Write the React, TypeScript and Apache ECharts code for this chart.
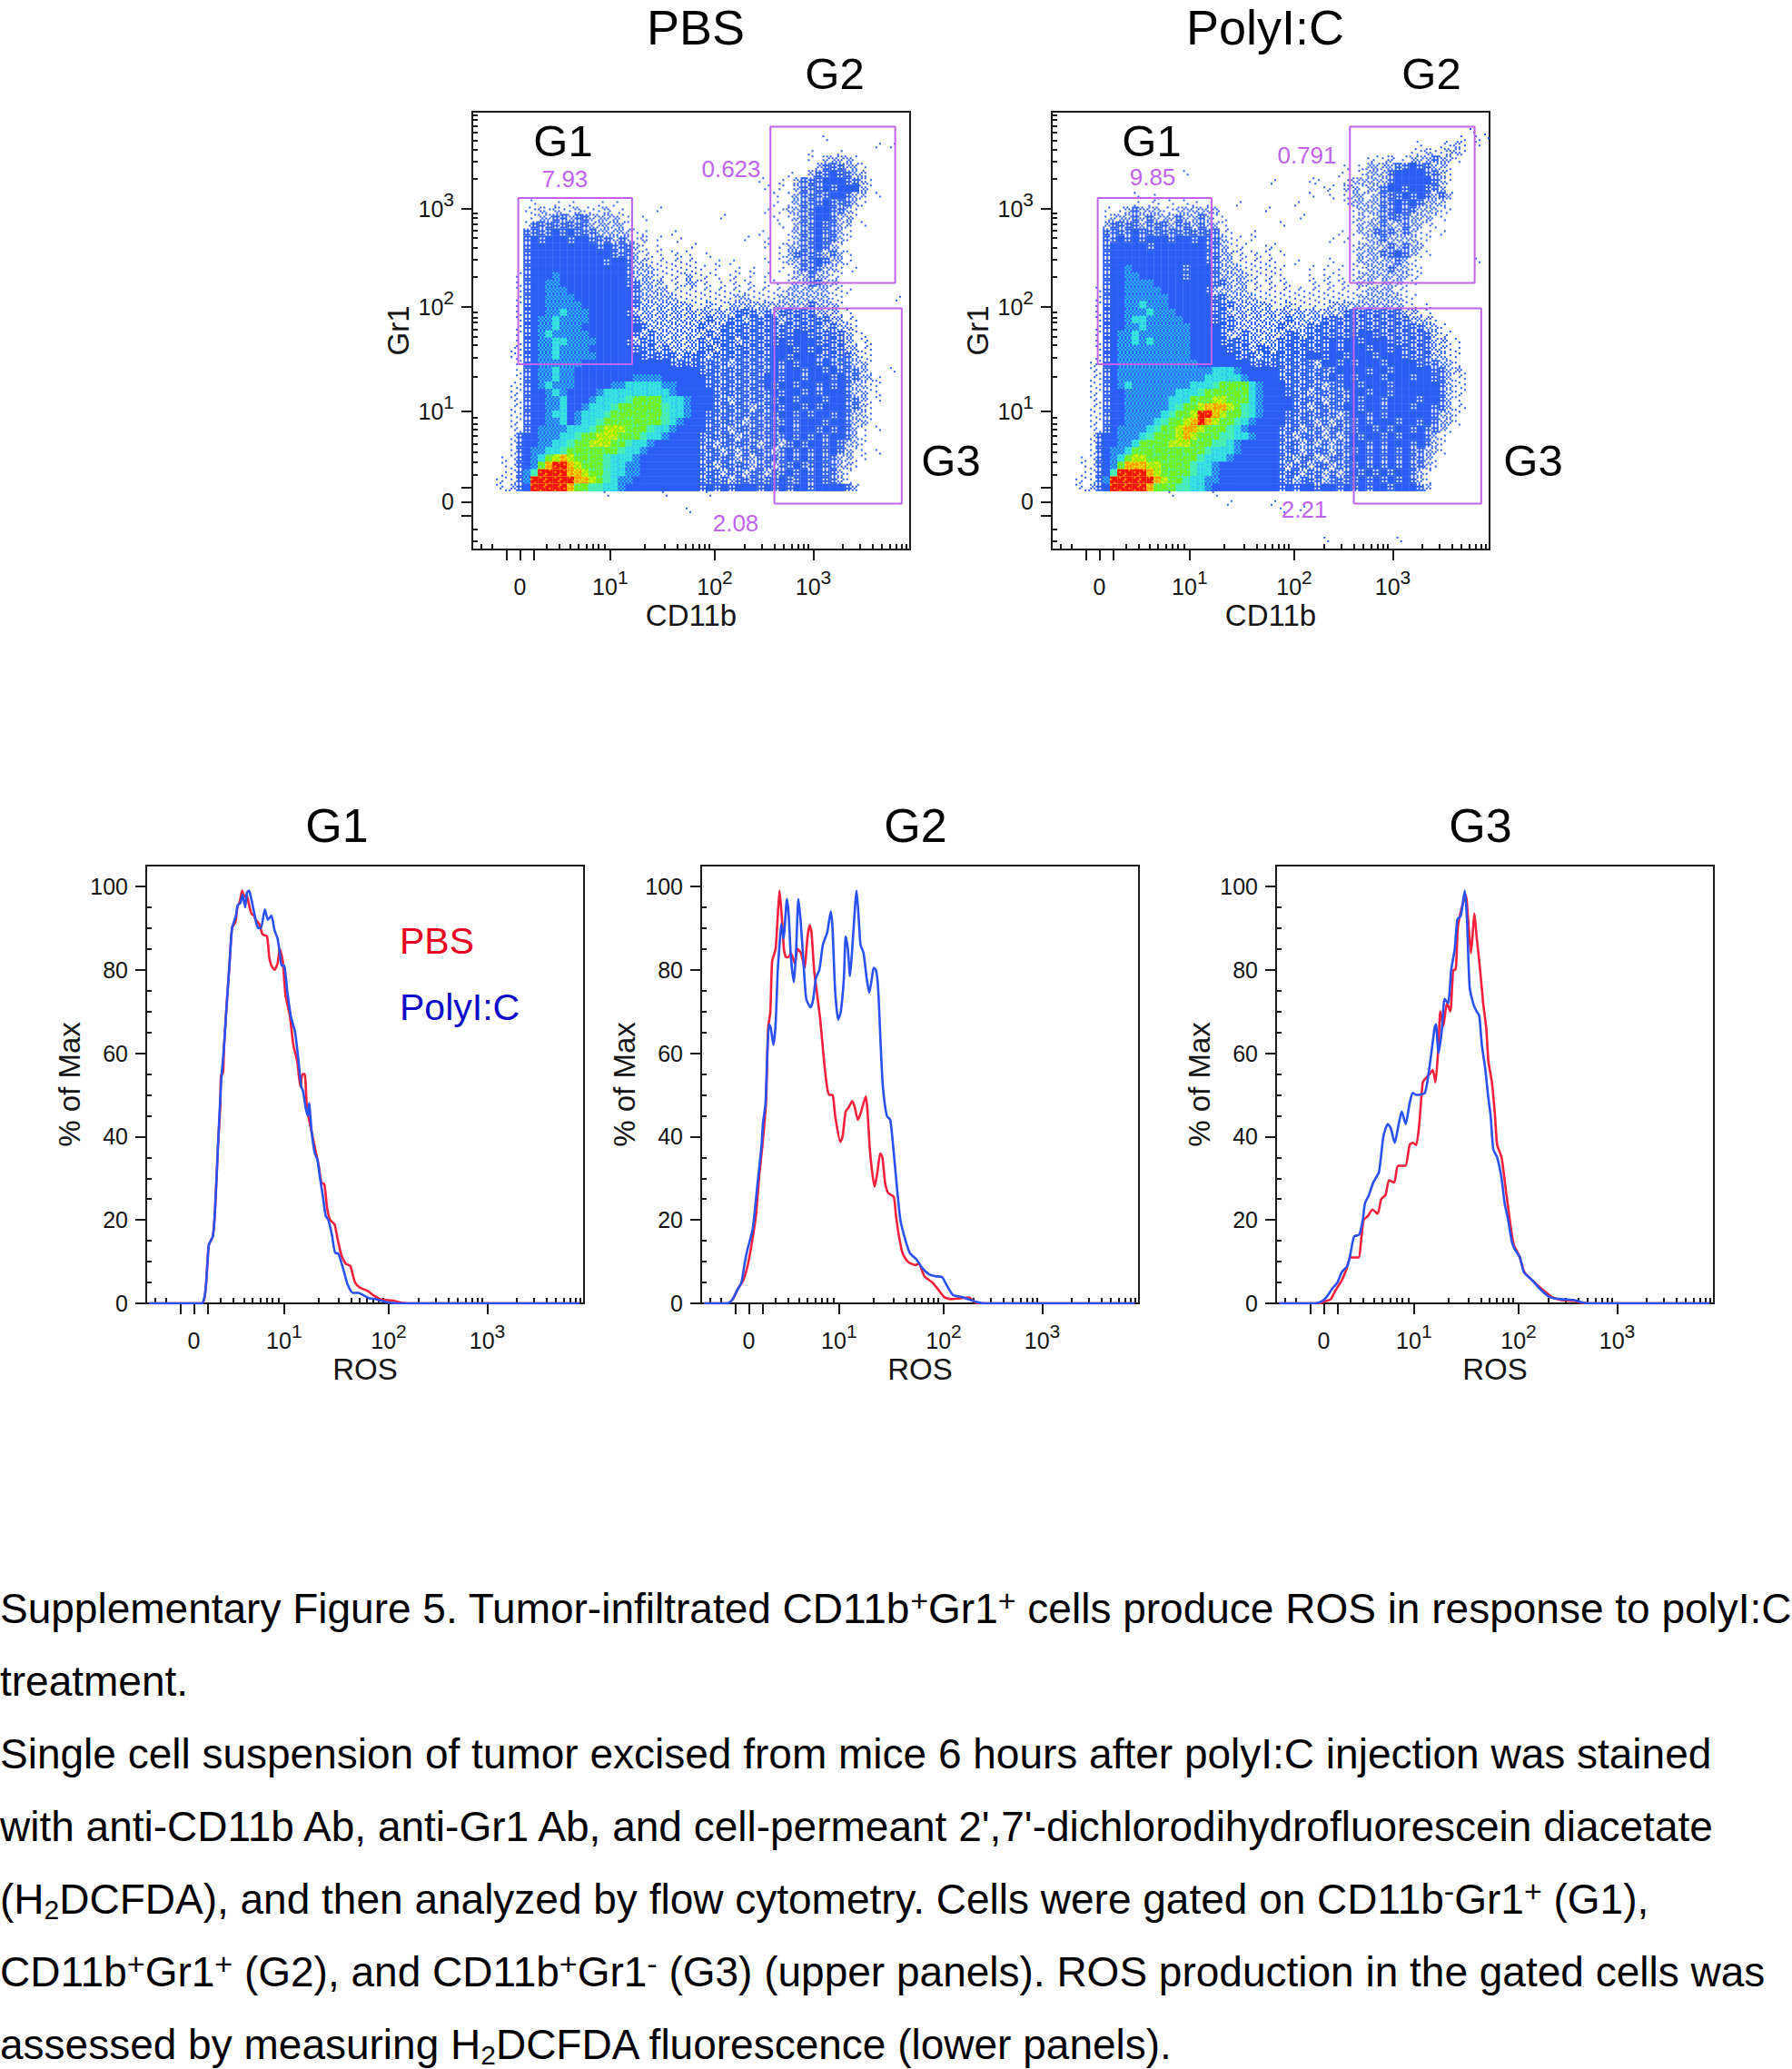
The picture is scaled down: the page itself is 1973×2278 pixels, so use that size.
import React, { useEffect, useRef } from 'react';
import * as echarts from 'echarts';

// all x/y positions on the biexponential scales are display channels, 0 - 1000
const majorTicks = [78, 109, 141, 315, 554, 779];
const minorTicks = [20, 46, 170, 199, 223, 242, 260, 275, 287, 302, 394, 439, 468, 486, 503, 519, 530, 542,
  622, 662, 690, 712, 729, 744, 757, 768, 846, 886, 914, 935, 953, 968, 981, 992];
const labelChannels = [109, 315, 554, 779];
const labelTexts = ['0', '10{sup|1}', '10{sup|2}', '10{sup|3}'];
const pctMajor = [0, 20, 40, 60, 80, 100];
const pctMinor = [5, 10, 15, 25, 30, 35, 45, 50, 55, 65, 70, 75, 85, 90, 95];

// gates, [x0, x1, y0, y1]
const gates = [
  [105, 365, 423, 803],
  [681, 966, 609, 966],
  [690, 981, 105, 551],
];

const panelNames = ['PBS', 'PolyI:C'];
const gatePercents = [['7.93', '0.623', '2.08'], ['9.85', '0.791', '2.21']];

// density level per cell of a 60 x 60 raster, top row first. '.' is no events
const densityLevels = 'abcdefghijk';
const densityColors = ['#2b5ef6', '#2b5ef6', '#2b5ef6', '#2b5ef6', '#30c4f2', '#38e6dc', '#4ff0a8', '#74f018', '#dcf000', '#ff9a00', '#f21408'];
// how many of the 16 sub cells of a raster cell carry a dot
const densityDots = [2, 6, 12, 16, 8, 12, 12, 13, 10, 11, 14];

const pbsDensity = [
  '.......... .......... .......... .......... .......... ..........',
  '.......... .......... .......... .......... .......... ..........',
  '.......... .......... .......... .......... .......... ..........',
  '.......... .......... .......... .......... ........a. ..........',
  '.......... .......... .......... .......... .......... .....a.a..',
  '.......... .......... .......... .......... ......a... a.........',
  '.......... .......... .......... .......... ......a.bb bba.......',
  '.......... .......... .......... .......... .......bcc cbba......',
  '.......... .......... .......... .......... ...a..bccd ccbb......',
  '.......... .......... .......... .........a ..a.bcccdd dccba.....',
  '.......... .......... .......... .......... a.a.bcccdc dddba.....',
  '.......... .......... .......... .......... .a.abccccd dcbb.a....',
  '........a. .a.a...a.a .......... .......... .a.abcccdc ccba......',
  '.......aab abaabaaab. a....a.... .......... a.abbccddc cba.......',
  '........ab bccbccbbbb aa.a...... ....a..... .a.abccddc bba.......',
  '.......acc ccccccbbbb ba........ .......... ..a.bccdcc bb.a......',
  '.......ccc cdcdcccbbb bbaa...a.. .........a ...abccdcc ba........',
  '.......cdc dddcddcccb cbab.a..a. .......a.. a..abccdcc ba........',
  '.......cdd dddddddcdc ccba.a.... a......... a.abbccdcb a.........',
  '.......cdd dddddddddc ccbaaa.aaa ..a....... ..abccccbc ba........',
  '.......cdd ddddddddcd dcbbaaaaaa a..a.a.... a.abbccdcb ba........',
  '.......cdd dddddddddd dcbbbaaaaa aa.a..a.a. ..a.bcccbb a.a.......',
  '......acdd dedddddddd dcbbbaaaab aaaa.aa.a. a..abbcbba a.........',
  '......acdd eedddddddd dccbbbaaab baa.aaaaa. aa.abbccbb a.........',
  '......acdd eeeddddddd ddcbbbbaaa aaaaaaaaaa aaabbbbbba aa........',
  '......acdd eeeedddddd ddcbbbbbaa aaaaaabbaa aabbbbbbba a.......a.',
  '......acdd eeeeeddddd ddcbbbbbbb aabaabbbbb bbbbbbcbbb a.........',
  '......acdd eefeeedddd dcbbbbbbbb bbbbbbcccb cbcccccbbb aa........',
  '......acde efeeeedddd ddcbbbbbbb bbcbbccbcc ccbccccccb baa.......',
  '......acde efeeeddddd dddcbbbbbb bcbbcccccc ccccccccbc bba.......',
  '......acde feeeeedddd ddcbcbbbbb bbcbcccccc ccccddcccc cbaa......',
  '......acde effeeeeddd dcbccbbbbb bcbcccbccc ccdcdddccc cbaaa.....',
  '.....aacde efeeeedddd ddcccbcbbb bccbcccccc cdddcdcdcc cbbaa.....',
  '.....aacde efeeeeeddd dddcccccbc ccbccccccc cddcdddccc ccbaa.....',
  '......acde eeeeeddddd dddddddccc cccccbcccc cdcdcddcdc ccbba.....',
  '......acde efeedddddd dddddddddd dccccccccc cdcddcddcd cccba..a..',
  '......acde efeedddddd ddeeeedddd ddcccccccc ddcddcdddc dccbba....',
  '.....aacde feeeddddde efffffeedd ddcccccccc dcddcddcdc dcbbaa....',
  '.....aacdd efeddddeff fffffffedd dddccccccc cdcddcdcdd dcbbaa....',
  '.....aacdd eefdddefff fghhhhfffe dddccbcccc ccddcdddcd dccbaa....',
  '.....aacdd eefddefffg hhhhhhgffe dddcccccbc cdcddcdcdd dccba.....',
  '.....aacdd effdefffgh hhhhhhgffe ddcccccccc ccddcdcddc dcbba.....',
  '.....aacdd eefdeffghh hhhhhhgfed ddcccccbcc cccdcdddcd dcbba.....',
  '.....aacde eeefffghii ihhhgffedd ddcccbcccc ccddcddcdc dcba.a....',
  '.....acdde eeffghhiii hhhgffeddd dcccccbccc cccdcdcdcd dcba......',
  '.....acdde effghhiiih hgffeddddd dccbcccccb ccbcdcddcd cbba......',
  '.....acdee ffghhhhhhh gffedddddd dcccbcbccc cbcdcdcdcd cbaa.a....',
  '....aacdef hijihhhhgf ffeddddddd dcccccbcbc cccdcdcdcc bbaa......',
  '....aacdeh jkkjihhhgf feeddddddd dccbccccbc cbccdccdcc bba.......',
  '....aacegk kkkjjihhgf feeddddddd dcccbccbcc bccdcdcdcc ba........',
  '...aaacekk kkkkjjihgf eedddddddd dccccbcccc ccdccdcdcc ba........',
  '...aabcdkk kkkjhhggff eddddddddd dcdcdcdddc dcdcddcddd dcb.......',
  '.......... ........a. ......a... ..a....... .......... ..........',
  '.......... .......... .......... .......... .......... ..........',
  '.......... .......... .........a .......... .......... ..........',
];

const polyDensity = [
  '.......... .......... .......... .......... .......... ..........',
  '.......... .......... .......... .......... .......... ..........',
  '.......... .......... .......... .......... .......... .......a..',
  '.......... .......... .......... .......... .......... ......a.aa',
  '.......... .......... .......... .......... .......... a..aaba.a.',
  '.......... .......... .......... .......... .........a abaabba...',
  '.......... .......... .......... .......... ...aaab.ab bbcbba....',
  '.......... .......... .......... .......... a.abbbbccd ccbba.....',
  '.......... ........a. .......... .........a ..abbbcddd dccba.....',
  '.......... .......... .......... a....aa... abbbbbcddd ddcba.....',
  '.......... .......... .......... .......aa. bbabbcddcd dccb......',
  '.......... .a..a..... .......... .....a..a. abbabcccdc dcbcb.....',
  '.......... .a.aa.a.aa .a...a.... ...a...... abbbbccdcd cbbb......',
  '.......a.a bcbbbaabbb bbb......a .......... .abbbccdcc bbbaa.....',
  '.......abb bcbcbbbcbb cbaa...... ....a..... .ababccccb bbaa......',
  '.......bcc ccbcccbccb cbba...... .a........ .abbbcbbcb baa.......',
  '.......ccc cdcccccccc cccaa..a.. .........a .abbcccbcb aa.a......',
  '.......ccd cdcdddcddc dccbaa.a.. ........a. a.abbcbbbb aa........',
  '.......cdd dddcdddddd dccbaaa..a a......... .abbbbcbcb b.........',
  '.......cdd dddddddddd dccbbaaaaa .a........ .abbbccdcb aa........',
  '.......cdd dddddddddd dccbbaaaaa a..a....a. .abbbbbcba ........a.',
  '.......cdd edddddddcd ddcbbbaaaa aa...a.a.a .aabbbcbba a.........',
  '.......cdd eeddddddcd ddcbbbbaaa aa...a.aaa .abbbbbbba a.........',
  '.......cdd eeeedddddd ddccbbbaaa aaa..aaaaa aabbabbbaa ..........',
  '......acdd eeeeeddddd dcbbbbbaaa aaaaaaaaaa aaabbbbaa. ..........',
  '......acdd eeeeeedddd ddccbbbbaa aaaaaaaaaa aabbbbbbaa ..........',
  '......acdd eefeeedddd ddcccbbbbb aabaaaaabb bbbbbbbbaa .a........',
  '......acdd eeefeeeddd ddccbbbbbb bbbbbbbbbb ccccccccbb aa........',
  '......acdd effeeeeedd ddcccbbbbb bbcbbbbccc cccccccccb bba.......',
  '......acdd eefeeeeeed dddccbbbbb bcbbbccccc cccccccccc cbba......',
  '......acde efeeeeeeed dddcbbcbbb bbccbccccc ccddcccccc ccbaa.....',
  '......acde efefeeeeed dddccccbbb bcccccccdc ddcdddcccc ccbbaa....',
  '......acde eeeeeeeeed ddddcccbcc bcccccccdc dddcddcdcc ccbbaa....',
  '......acde eeeeeeeeed dddddcccbc cccccddcdd cdddcdddcc ccbbaa....',
  '.....aacde eeeeeeeeee dddddddccc ccccccbddc dcdddcdddd cccbba....',
  '.....aacde eeeeeeeeee eefffedddd dccccccccd dddcddcddd ddccbba...',
  '.....aacde eeeeeeeeee efffffeddd dcccccccdc dcdddcdddc ddccbaa...',
  '.....aacde feeeeeeeef ffghhhhfed ddcccccbcc ddcdddcddd dddcbaa...',
  '.....aacdd eeeeeeefff ghhhhhhfed ddcccbcccc cddcddcddd dddcbaa...',
  '.....aacdd eeeeeefffh hhiihhhfed dddccccbcc cdcddcdddd cddcba....',
  '.....aacdd eeeeeefghh ijjjihgfed dddccbcccc ddcddcdddc ddccbaa...',
  '.....aacdd eeeeefghhi kkjihhgfed ddcccccccb cddcdcdddd ddcbba....',
  '.....aacdd eeeefghhij kjihhgfedd ddccccbcbc ccdcdddcdd cdcbba....',
  '.....aacde eeefghhijj ihhhgfeddd dcccbccbcc ccddcdcddc dccba.....',
  '.....acdde eefghhhiji hhhggffedd dccbcccbcb cdcddcdcdd dcba......',
  '.....acdde efhhhhiiih hhggfedddd dcccbcbcbc cddcdcdddc dcba......',
  '.....acdee fhhhhhhhhh hgfffedddd dcccbcccbc ccdcdcdcdc cbba......',
  '....aacdef hiihhhhhhh gfffeddddd dccbccbbcc cddcdcdcdc cba.......',
  '....aacdeh jjjiihhhhg ffeddddddd dcbccbccbc ccdcdcdcdc cba.......',
  '....aacdgk kkkjihhhhg ffeddddddd dcccbccbcb cdcdcdcddc ba........',
  '...aaacekk kkkkjihhgf feeddddddd dccbcccbcc ccdcdcdcdc ba........',
  '...aabcdkk kkkjhhhggf fedddddddd dcdcddcddc dcdcddcddd cb........',
  '.......... ......a... ..a....... .......... .......... ..........',
  '.......... .......... ....a..... a......... .......... ..........',
  '.......... .......... .......... .a..a..... .......... ..........',
  '.......... .......... .......... .......... .......... ..........',
  '.......... .......... .......... .......... .......... ..........',
  '.......... .......... .......... .......... .......... ..........',
  '.......... .......... .......... .......a.. .......a.. ..........',
];

// histograms, [channel, % of max]
const g1Pbs = [[7, 0], [127, 0], [133, 1.2], [137, 5], [143, 14], [152, 16], [157, 22], [164, 38], [169, 47], [171, 55], [175, 55], [178, 62], [184, 72], [190, 81], [196, 90], [204, 91.5], [208, 95], [214, 96.5], [219, 99], [224, 97.5], [229, 98], [234, 96], [240, 93.5], [246, 93], [250, 92], [258, 91], [266, 88.5], [276, 88], [281, 83], [286, 81], [293, 80], [300, 81.5], [305, 85], [312, 82], [318, 74], [328, 69], [336, 62], [345, 58], [352, 52], [357, 55], [362, 55], [367, 47], [374, 43], [384, 38], [394, 33], [400, 29], [407, 28.5], [413, 23], [420, 20], [430, 19], [438, 15], [446, 11.5], [456, 9.5], [466, 9], [477, 5], [488, 3.8], [505, 3], [518, 2], [535, 1], [560, 0.7], [570, 0.5], [585, 0.1], [600, 0], [990, 0]];
const g1Poly = [[7, 0], [127, 0], [133, 1.5], [137, 5], [143, 14], [152, 16], [157, 22], [164, 38], [171, 53], [178, 62], [184, 72], [190, 81], [196, 90], [205, 93], [209, 95.5], [215, 96], [220, 98], [226, 95], [230, 98.5], [235, 99], [240, 97], [246, 94], [252, 91], [257, 90], [262, 90], [271, 94.5], [278, 92], [286, 93], [293, 89.5], [300, 87.5], [305, 84], [309, 81], [315, 81], [322, 75], [330, 69], [340, 65], [347, 59], [354, 52], [358, 51], [364, 47], [369, 45], [372, 48], [378, 41], [385, 36], [391, 34.5], [397, 30], [403, 26], [410, 21], [416, 20], [424, 16.5], [432, 12], [438, 12], [445, 10], [452, 7.5], [460, 4.5], [472, 2.5], [485, 2.5], [495, 2], [510, 1.2], [525, 1], [545, 0.4], [560, 0.1], [575, 0], [990, 0]];
const g2Pbs = [[7, 0], [60, 0], [72, 1], [84, 3.5], [96, 5.5], [106, 9], [115, 14], [125, 21], [133, 31], [140, 38], [148, 48], [153, 66], [158, 70], [162, 82], [170, 85], [175, 93], [179, 99], [184, 93], [189, 85], [194, 83], [199, 83], [205, 84], [214, 81.5], [220, 85], [228, 84], [236, 80.5], [243, 88], [248, 90.7], [252, 89], [258, 80], [265, 74], [272, 68], [279, 60], [286, 53], [292, 50], [300, 50], [306, 45], [318, 38.7], [323, 40], [330, 46], [337, 47], [345, 48.5], [351, 47], [358, 44], [364, 45.5], [376, 49.6], [380, 46], [386, 36], [396, 28], [402, 31], [409, 36], [414, 35], [420, 29], [427, 26.5], [440, 25.5], [445, 21], [452, 16], [460, 12], [472, 10], [489, 9.2], [497, 9.5], [510, 6.5], [528, 5], [540, 3.5], [555, 1.5], [570, 1], [590, 1.2], [612, 1.4], [622, 0.5], [632, 0], [990, 0]];
const g2Poly = [[7, 0], [60, 0], [72, 1], [84, 3.5], [92, 5], [100, 10], [106, 13], [118, 18], [128, 28], [138, 38], [141, 43], [147, 48], [151, 60], [155, 67], [159, 66], [165, 62], [170, 67], [175, 80], [179, 86], [183, 91], [188, 87.5], [196, 97], [200, 93], [205, 83], [212, 77], [217, 85], [222, 97], [227, 92], [233, 83], [240, 73], [250, 71], [256, 73], [262, 78], [270, 80], [278, 86], [288, 89], [296, 94], [300, 90], [306, 75], [313, 68], [319, 70], [326, 78], [330, 88], [335, 85], [340, 78.5], [345, 85], [352, 96], [355, 99], [360, 92], [364, 86], [371, 84], [378, 78], [384, 74.5], [390, 78], [394, 80.5], [399, 80], [404, 76], [410, 62], [415, 52], [424, 45], [432, 44], [440, 36], [447, 28], [455, 20], [467, 15], [477, 12], [492, 10.5], [505, 8.5], [520, 7], [535, 6.5], [550, 6.3], [560, 4.5], [575, 2], [595, 1.5], [610, 1], [630, 0.3], [645, 0], [990, 0]];
const g3Pbs = [[7, 0], [100, 0], [112, 0.5], [125, 1], [135, 3], [150, 5.5], [160, 8], [170, 11], [188, 11], [195, 16], [200, 20], [210, 21], [220, 22.5], [232, 21.5], [240, 25], [250, 26], [258, 29.5], [270, 29], [278, 33], [295, 33], [305, 38], [312, 38.5], [320, 38], [327, 43], [335, 53], [342, 54], [351, 55], [358, 56], [364, 53], [371, 62], [375, 70], [382, 66.5], [390, 72], [398, 70], [405, 80], [410, 80], [415, 90], [422, 94], [433, 98], [440, 90], [445, 84], [450, 90], [453, 93.5], [458, 88], [466, 80], [473, 72], [480, 66], [485, 58], [493, 53], [500, 45], [505, 38], [515, 35], [525, 27], [535, 19], [543, 14], [555, 11.5], [567, 7.5], [580, 6], [595, 4.5], [612, 3], [630, 1.5], [650, 0.8], [680, 0.6], [700, 0.1], [715, 0], [990, 0]];
const g3Poly = [[7, 0], [90, 0], [105, 0.5], [115, 1.5], [128, 3.5], [140, 5], [150, 7.5], [163, 9], [170, 12], [178, 16], [190, 16.5], [198, 20], [203, 24], [212, 26], [222, 29], [235, 31.5], [245, 40], [255, 43], [262, 42], [271, 38.5], [280, 43], [287, 46], [296, 43], [305, 48], [312, 50.5], [320, 50], [340, 50.5], [352, 58], [362, 66], [365, 67], [371, 60], [378, 65], [385, 73], [393, 72], [400, 80], [408, 85], [414, 92], [422, 93], [431, 99], [436, 92], [442, 76], [450, 72], [458, 70], [464, 69], [470, 62], [478, 56], [484, 50], [490, 45], [496, 37], [505, 35], [515, 30], [522, 24], [530, 20], [538, 15], [545, 13], [557, 11], [566, 7.5], [585, 5.5], [605, 3.2], [625, 1.5], [650, 1], [680, 0.8], [700, 0.2], [715, 0], [990, 0]];

const caption = [
  'Supplementary Figure 5. Tumor-infiltrated CD11b{sup|+}Gr1{sup|+} cells produce ROS in response to polyI:C',
  'treatment.',
  'Single cell suspension of tumor excised from mice 6 hours after polyI:C injection was stained',
  "with anti-CD11b Ab, anti-Gr1 Ab, and cell-permeant 2',7'-dichlorodihydrofluorescein diacetate",
  '(H{sub|2}DCFDA), and then analyzed by flow cytometry. Cells were gated on CD11b{sup|-}Gr1{sup|+} (G1),',
  'CD11b{sup|+}Gr1{sup|+} (G2), and CD11b{sup|+}Gr1{sup|-} (G3) (upper panels). ROS production in the gated cells was',
  'assessed by measuring H{sub|2}DCFDA fluorescence (lower panels).',
];

const FONT = '"Liberation Sans", Arial, sans-serif';
const TEXT = '#141414';
const GATE = '#c064ee';
const RED = '#f5203c';
const BLUE = '#2a52f2';
const GRID_CELLS = Array.from({ length: 60 }, (_, i) => String(i));
const BAYER = [[0, 8, 2, 10], [12, 4, 14, 6], [3, 11, 1, 9], [15, 7, 13, 5]];

const densityCells = (rows: string[]) =>
  rows.flatMap((r, row) =>
    [...r.replace(/ /g, '')].flatMap((ch, col) => (ch === '.' ? [] : [[col, row, densityLevels.indexOf(ch)]]))
  );

// one raster cell: the level below as ground, stippled with the cell's own colour
const renderDensityCell = (params: any, api: any) => {
  const col = api.value(0);
  const row = api.value(1);
  const level = api.value(2);
  const [cx, cy] = api.coord([col, row]);
  const [w, h] = api.size([1, 1]);
  const x0 = cx - w / 2;
  const y0 = cy - h / 2;
  const children: any[] = [];
  if (level >= 3) {
    children.push({
      type: 'rect',
      shape: { x: x0 - 0.2, y: y0 - 0.2, width: w + 0.4, height: h + 0.4 },
      style: { fill: densityColors[level === 3 ? 3 : level - 1] },
    });
  }
  if (level !== 3) {
    let d = '';
    const sw = w / 4;
    const sh = h / 4;
    for (let j = 0; j < 4; j++) {
      for (let i = 0; i < 4; i++) {
        const t = BAYER[(j + row * 3 + col) % 4][(i + col * 3 + row * 2) % 4];
        if (t < densityDots[level]) {
          d += `M${x0 + i * sw} ${y0 + j * sh}h${sw}v${sh}h${-sw}z`;
        }
      }
    }
    children.push({ type: 'path', shape: { pathData: d }, style: { fill: densityColors[level] } });
  }
  return { type: 'group', children };
};

const tickLabel = {
  fontFamily: FONT,
  fontSize: 25,
  color: TEXT,
  lineHeight: 42,
  rich: { sup: { fontFamily: FONT, fontSize: 21, color: TEXT, verticalAlign: 'top', lineHeight: 21 } },
};

const text = (x: number, y: number, value: string, fontSize: number, fill = '#000', align = 'center') => ({
  type: 'text',
  x,
  y,
  silent: true,
  style: { text: value, fontFamily: FONT, fontSize, fill, textAlign: align, textVerticalAlign: 'middle' },
});

const buildOption = () => {
  const grid: any[] = [];
  const xAxis: any[] = [];
  const yAxis: any[] = [];
  const series: any[] = [];

  const addGrid = (left: number, top: number, xName: string, yName: string, hist: boolean) => {
    const g = grid.length;
    grid.push({ show: true, left, top, width: 482, height: 482, borderColor: '#1a1a1a', borderWidth: 2, backgroundColor: '#fff' });
    const yMax = hist ? 105 : 1000;
    const x0 = xAxis.length;
    const y0 = yAxis.length;
    xAxis.push({
      gridIndex: g, type: 'value', min: 0, max: 1000, splitLine: { show: false }, name: xName,
      nameLocation: 'middle', nameMoveOverlap: false, nameGap: 56, nameTextStyle: { fontFamily: FONT, fontSize: 33, color: TEXT, verticalAlign: 'top' },
      axisLine: { lineStyle: { color: '#1a1a1a', width: 2 } },
      axisTick: { customValues: majorTicks, length: 12, lineStyle: { color: '#1a1a1a', width: 2 } },
      axisLabel: { ...tickLabel, customValues: labelChannels, margin: 20, formatter: (v: number) => labelTexts[labelChannels.indexOf(v)] ?? '' },
    });
    xAxis.push({
      gridIndex: g, type: 'value', min: 0, max: 1000, splitLine: { show: false }, axisLine: { show: false },
      axisTick: { customValues: minorTicks, length: 6, lineStyle: { color: '#1a1a1a', width: 2 } }, axisLabel: { show: false },
    });
    yAxis.push({
      gridIndex: g, type: 'value', min: 0, max: yMax, splitLine: { show: false }, name: yName,
      nameLocation: 'middle', nameMoveOverlap: false, nameGap: hist ? 68 : 65, nameTextStyle: { fontFamily: FONT, fontSize: 33, color: TEXT },
      axisLine: { lineStyle: { color: '#1a1a1a', width: 2 } },
      axisTick: { customValues: hist ? pctMajor : majorTicks, length: 12, lineStyle: { color: '#1a1a1a', width: 2 } },
      axisLabel: hist
        ? { ...tickLabel, lineHeight: 28, customValues: pctMajor, margin: 20 }
        : { ...tickLabel, customValues: labelChannels, margin: 20, formatter: (v: number) => labelTexts[labelChannels.indexOf(v)] ?? '' },
    });
    yAxis.push({
      gridIndex: g, type: 'value', min: 0, max: yMax, splitLine: { show: false }, axisLine: { show: false },
      axisTick: { customValues: hist ? pctMinor : minorTicks, length: 6, lineStyle: { color: '#1a1a1a', width: 2 } }, axisLabel: { show: false },
    });
    return { x: x0, y: y0, g };
  };

  [pbsDensity, polyDensity].forEach((rows, p) => {
    const a = addGrid(p === 0 ? 520 : 1158, 123, 'CD11b', 'Gr1', false);
    const catX = xAxis.length;
    const catY = yAxis.length;
    xAxis.push({ gridIndex: a.g, type: 'category', data: GRID_CELLS, show: false });
    yAxis.push({ gridIndex: a.g, type: 'category', data: GRID_CELLS, show: false, inverse: true });
    series.push({
      type: 'custom', name: panelNames[p], xAxisIndex: catX, yAxisIndex: catY, data: densityCells(rows),
      encode: { x: 0, y: 1 }, renderItem: renderDensityCell, silent: true, z: 1, clip: false,
    });
    gates.forEach(([x0, x1, y0, y1]) => {
      series.push({
        type: 'line', xAxisIndex: a.x, yAxisIndex: a.y, showSymbol: false, silent: true, z: 3,
        data: [[x0, y0], [x1, y0], [x1, y1], [x0, y1], [x0, y0]],
        lineStyle: { color: GATE, width: 2 },
      });
    });
  });

  [[161, g1Pbs, g1Poly], [772, g2Pbs, g2Poly], [1405, g3Pbs, g3Poly]].forEach(([left, pbs, poly]: any) => {
    const a = addGrid(left, 953, 'ROS', '% of Max', true);
    series.push({ type: 'line', name: 'PBS', xAxisIndex: a.x, yAxisIndex: a.y, data: pbs, showSymbol: false, silent: true, smooth: 0.2, lineStyle: { color: RED, width: 2.6 } });
    series.push({ type: 'line', name: 'PolyI:C', xAxisIndex: a.x, yAxisIndex: a.y, data: poly, showSymbol: false, silent: true, smooth: 0.2, lineStyle: { color: BLUE, width: 2.6 } });
  });

  const graphic: any[] = [
    text(766, 30, panelNames[0], 54),
    text(1393, 30, panelNames[1], 54),
    text(919, 81, 'G2', 49),
    text(620, 155, 'G1', 49),
    text(1047, 507, 'G3', 49),
    text(1576, 81, 'G2', 49),
    text(1268, 155, 'G1', 49),
    text(1688, 507, 'G3', 49),
    text(622, 197, gatePercents[0][0], 26, GATE),
    text(805, 186, gatePercents[0][1], 26, GATE),
    text(810, 576, gatePercents[0][2], 26, GATE),
    text(1269, 195, gatePercents[1][0], 26, GATE),
    text(1439, 171, gatePercents[1][1], 26, GATE),
    text(1436, 561, gatePercents[1][2], 26, GATE),
    text(371, 909, 'G1', 52),
    text(1008, 909, 'G2', 52),
    text(1630, 909, 'G3', 52),
    text(440, 1036, 'PBS', 41, '#ea0022', 'left'),
    text(440, 1109, 'PolyI:C', 41, '#0a0ac8', 'left'),
  ];

  caption.forEach((line, i) => {
    graphic.push({
      type: 'text', x: 0, y: 1771 + i * 80, silent: true,
      style: {
        text: line, fontFamily: FONT, fontSize: 46, fill: '#000', textAlign: 'left', textVerticalAlign: 'middle', lineHeight: 52,
        rich: {
          sup: { fontFamily: FONT, fontSize: 34, fill: '#000', verticalAlign: 'top', lineHeight: 18 },
          sub: { fontFamily: FONT, fontSize: 30, fill: '#000', verticalAlign: 'bottom', lineHeight: 38 },
        },
      },
    });
  });

  return {
    animation: false,
    backgroundColor: '#fff',
    grid,
    xAxis,
    yAxis,
    series,
    graphic,
  };
};

const App: React.FC = () => {
  const chartRef = useRef<HTMLDivElement>(null);

  useEffect(() => {
    document.body.style.margin = '0';
    const chart = echarts.init(chartRef.current!, null, { renderer: 'svg' });
    chart.setOption(buildOption());
    return () => {
      chart.dispose();
    };
  }, []);

  return <div ref={chartRef} style={{ width: 1973, height: 2278 }} />;
};

export default App;
